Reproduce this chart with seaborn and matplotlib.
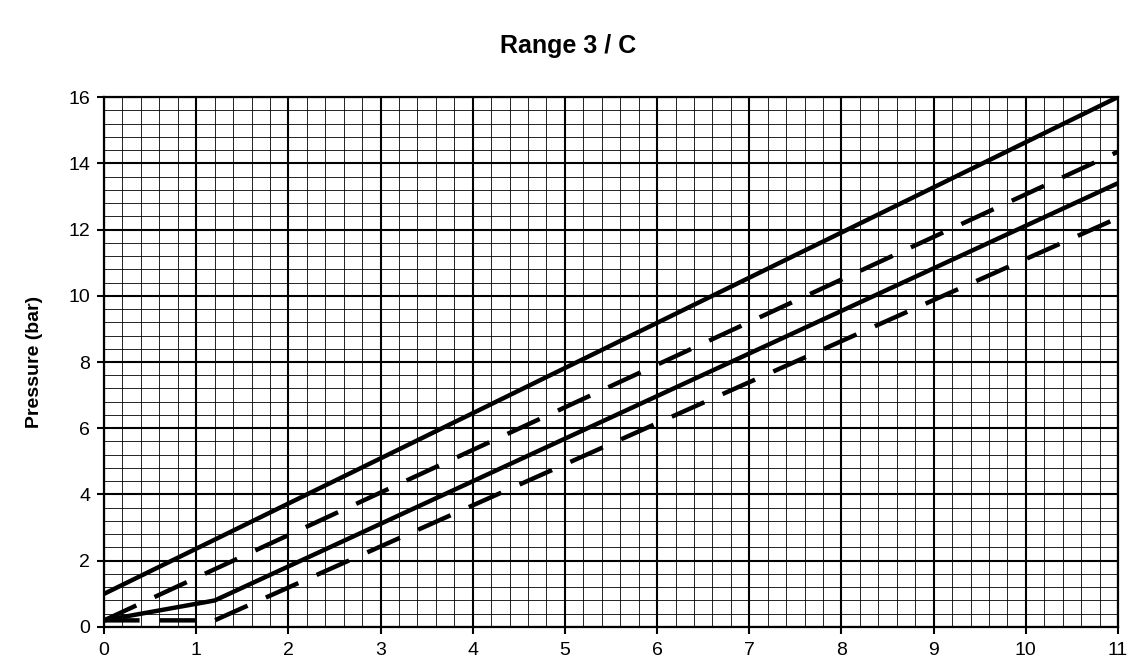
import numpy as np
import pandas as pd
import seaborn as sns
import matplotlib.pyplot as plt
from matplotlib.ticker import MultipleLocator

# curves (flow on x, pressure in bar on y)
upper_solid_x = [0, 11]
upper_solid_y = [1.0, 16.0]

upper_dash_x = [0, 11]
upper_dash_y = [0.2, 14.35]

lower_solid_x = [0, 1.2, 11]
lower_solid_y = [0.2, 0.8, 13.4]

lower_dash_x = [0, 1.2, 11]
lower_dash_y = [0.2, 0.2, 12.35]

x_ticks = list(range(0, 12))
y_ticks = list(range(0, 17, 2))

sns.set_style("white")
plt.rcParams['font.family'] = ['Liberation Sans', 'DejaVu Sans']
plt.rcParams['text.color'] = 'black'
plt.rcParams['axes.labelcolor'] = 'black'

fig = plt.figure(figsize=(11.37, 6.7), dpi=100)
ax = fig.add_axes([0.0915, 0.0642, 0.8918, 0.791])

# graph-paper grid
ax.xaxis.set_minor_locator(MultipleLocator(0.2))
ax.yaxis.set_minor_locator(MultipleLocator(0.4))
ax.grid(which='minor', color='black', linewidth=0.6)
ax.grid(which='major', color='black', linewidth=1.5)
ax.set_axisbelow(True)

lw = 3.2
sns.lineplot(x=upper_solid_x, y=upper_solid_y, ax=ax, color='black', lw=lw)
sns.lineplot(x=lower_solid_x, y=lower_solid_y, ax=ax, color='black', lw=lw)
sns.lineplot(x=upper_dash_x, y=upper_dash_y, ax=ax, color='black', lw=lw)
sns.lineplot(x=lower_dash_x, y=lower_dash_y, ax=ax, color='black', lw=lw)
for line in ax.lines[2:4]:
    line.set_dashes((8, 4.5))

ax.set_xlim(0, 11)
ax.set_ylim(0, 16)
ax.set_xticks(x_ticks)
ax.set_yticks(y_ticks)
ax.tick_params(which='major', direction='out', length=5, width=1.5,
               labelsize=14, bottom=True, left=True, colors='black', pad=6)
ax.tick_params(axis='y', which='major', pad=5)
ax.tick_params(which='minor', length=0)
for s in ax.spines.values():
    s.set_color('black')
    s.set_linewidth(1.6)

ax.set_xlabel('')
ax.set_ylabel('Pressure (bar)', fontsize=14, fontweight='bold', labelpad=18,
              color='black')
fig.suptitle('Range 3 / C', fontsize=18, fontweight='bold', y=0.95, x=0.5,
             color='black')

fig.savefig('out.png', dpi=100)
